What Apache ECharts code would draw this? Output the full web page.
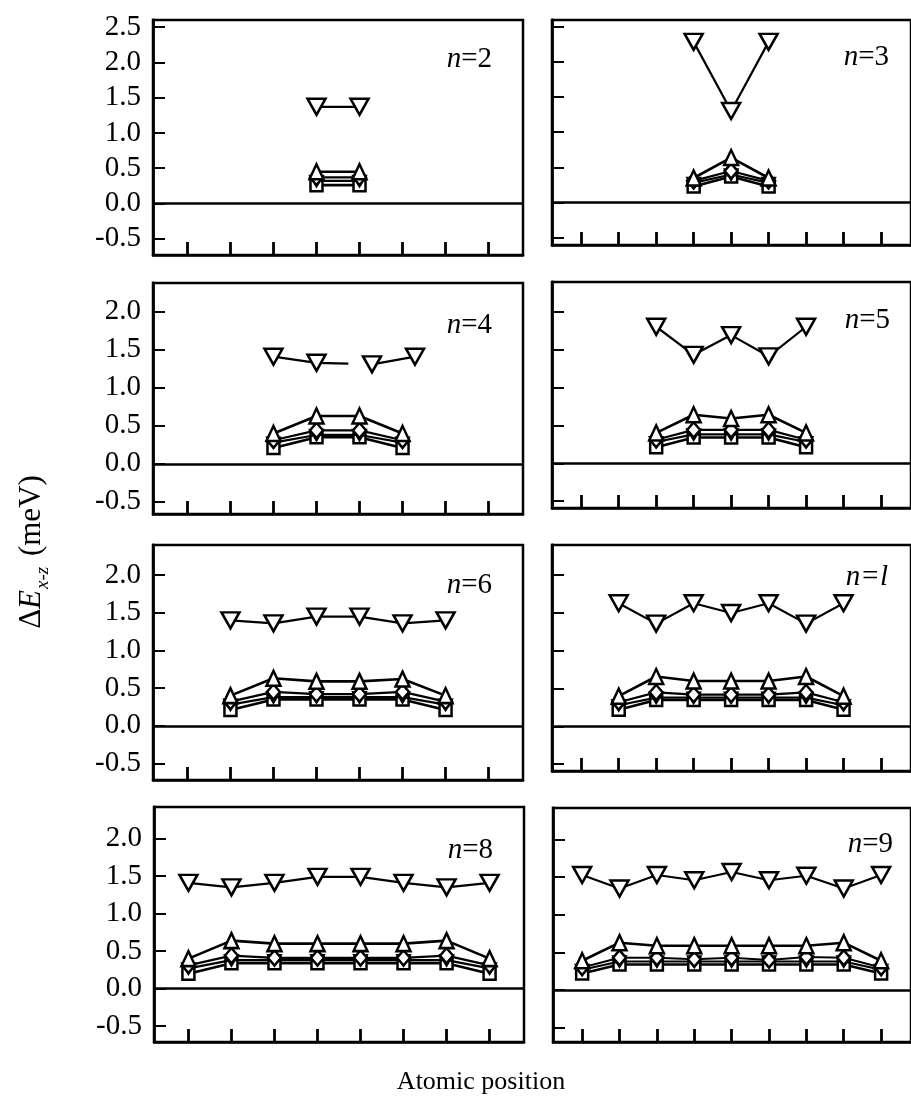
<!DOCTYPE html>
<html>
<head>
<meta charset="utf-8">
<script src="https://cdn.jsdelivr.net/npm/echarts@6/dist/echarts.min.js"></script>
<style>
  html, body { margin: 0; padding: 0; background: #fff; }
  #chart { width: 911px; height: 1107px; }
</style>
</head>
<body>
<div id="chart"></div>
<script>
// ΔE(x-z) along the chain for n = 2 … 9 atoms; five curves per panel.
// dn: large open down-triangles, up: up-triangles, dm: diamonds,
// dt: small down-triangles, sq: squares.

const panelLabels = ['2', '3', '4', '5', '6', 'l', '8', '9'];

const yTicksTop = [-0.5, 0, 0.5, 1.0, 1.5, 2.0, 2.5];
const yTicks = [-0.5, 0, 0.5, 1.0, 1.5, 2.0];
const xTicksLeft = [1, 2, 3, 4, 5, 6, 7, 8];
const xTicksRight = [1, 2, 3, 4, 5, 6, 7, 8, 9];

// n = 2
const xN2 = [4, 5];
const dnN2 = [1.37, 1.37];
const upN2 = [0.45, 0.45];
const dmN2 = [0.37, 0.37];
const dtN2 = [0.32, 0.32];
const sqN2 = [0.26, 0.26];

// n = 3
const xN3 = [4, 5, 6];
const dnN3 = [2.28, 1.30, 2.28];
const upN3 = [0.35, 0.64, 0.35];
const dmN3 = [0.31, 0.45, 0.31];
const dtN3 = [0.28, 0.40, 0.28];
const sqN3 = [0.23, 0.37, 0.23];

// n = 4 (top curve has a broken segment between the 2nd and 3rd points)
const xN4 = [3, 4, 5, 6];
const dnXN4 = [3, 4, 4.74, 5.0, 5.29, 6.29];
const dnN4 = [1.41, 1.33, 1.32, null, 1.31, 1.41];
const dnMarkN4 = [true, true, false, false, true, true];
const upN4 = [0.40, 0.63, 0.63, 0.40];
const dmN4 = [0.31, 0.44, 0.44, 0.31];
const dtN4 = [0.28, 0.38, 0.38, 0.28];
const sqN4 = [0.21, 0.35, 0.35, 0.21];

// n = 5
const xN5 = [3, 4, 5, 6, 7];
const dnN5 = [1.80, 1.43, 1.69, 1.41, 1.80];
const upN5 = [0.40, 0.64, 0.59, 0.64, 0.40];
const dmN5 = [0.31, 0.44, 0.44, 0.44, 0.31];
const dtN5 = [0.28, 0.38, 0.38, 0.38, 0.28];
const sqN5 = [0.21, 0.34, 0.34, 0.34, 0.21];

// n = 6
const xN6 = [2, 3, 4, 5, 6, 7];
const dnN6 = [1.40, 1.36, 1.45, 1.45, 1.36, 1.40];
const upN6 = [0.40, 0.63, 0.59, 0.59, 0.62, 0.40];
const dmN6 = [0.32, 0.45, 0.42, 0.42, 0.45, 0.32];
const dtN6 = [0.28, 0.38, 0.38, 0.38, 0.38, 0.28];
const sqN6 = [0.21, 0.35, 0.35, 0.35, 0.35, 0.21];

// n = 7
const xN7 = [2, 3, 4, 5, 6, 7, 8];
const dnN7 = [1.63, 1.36, 1.63, 1.50, 1.63, 1.36, 1.63];
const upN7 = [0.40, 0.66, 0.60, 0.60, 0.60, 0.66, 0.40];
const dmN7 = [0.32, 0.45, 0.42, 0.42, 0.42, 0.45, 0.32];
const dtN7 = [0.28, 0.38, 0.38, 0.38, 0.38, 0.38, 0.28];
const sqN7 = [0.22, 0.35, 0.35, 0.35, 0.35, 0.35, 0.22];

// n = 8
const xN8 = [1, 2, 3, 4, 5, 6, 7, 8];
const dnN8 = [1.41, 1.35, 1.41, 1.49, 1.49, 1.41, 1.35, 1.41];
const upN8 = [0.40, 0.64, 0.60, 0.60, 0.60, 0.60, 0.64, 0.40];
const dmN8 = [0.31, 0.44, 0.41, 0.41, 0.41, 0.41, 0.44, 0.31];
const dtN8 = [0.27, 0.38, 0.38, 0.38, 0.38, 0.38, 0.38, 0.27];
const sqN8 = [0.20, 0.34, 0.34, 0.34, 0.34, 0.34, 0.34, 0.20];

// n = 9
const xN9 = [1, 2, 3, 4, 5, 6, 7, 8, 9];
const dnN9 = [1.53, 1.35, 1.53, 1.46, 1.57, 1.46, 1.52, 1.35, 1.53];
const upN9 = [0.39, 0.63, 0.59, 0.59, 0.59, 0.59, 0.59, 0.63, 0.39];
const dmN9 = [0.30, 0.43, 0.43, 0.41, 0.43, 0.40, 0.44, 0.43, 0.30];
const dtN9 = [0.27, 0.38, 0.38, 0.38, 0.38, 0.38, 0.38, 0.38, 0.27];
const sqN9 = [0.22, 0.34, 0.34, 0.34, 0.34, 0.34, 0.34, 0.34, 0.22];

const panels = [
  { x: xN2, dnX: xN2, dn: dnN2, up: upN2, dm: dmN2, dt: dtN2, sq: sqN2 },
  { x: xN3, dnX: xN3, dn: dnN3, up: upN3, dm: dmN3, dt: dtN3, sq: sqN3 },
  { x: xN4, dnX: dnXN4, dn: dnN4, dnMark: dnMarkN4, up: upN4, dm: dmN4, dt: dtN4, sq: sqN4 },
  { x: xN5, dnX: xN5, dn: dnN5, up: upN5, dm: dmN5, dt: dtN5, sq: sqN5 },
  { x: xN6, dnX: xN6, dn: dnN6, up: upN6, dm: dmN6, dt: dtN6, sq: sqN6 },
  { x: xN7, dnX: xN7, dn: dnN7, up: upN7, dm: dmN7, dt: dtN7, sq: sqN7 },
  { x: xN8, dnX: xN8, dn: dnN8, up: upN8, dm: dmN8, dt: dtN8, sq: sqN8 },
  { x: xN9, dnX: xN9, dn: dnN9, up: upN9, dm: dmN9, dt: dtN9, sq: sqN9 }
];

// Panel frames (pixels) and value ranges
const frames = [
  { left: 153, top: 20,  width: 370, height: 235, yMin: -0.73, yMax: 2.60 },
  { left: 552, top: 20,  width: 369, height: 225, yMin: -0.60, yMax: 2.59 },
  { left: 153, top: 283, width: 370, height: 231, yMin: -0.66, yMax: 2.38 },
  { left: 552, top: 282, width: 369, height: 226, yMin: -0.59, yMax: 2.39 },
  { left: 153, top: 545, width: 370, height: 235, yMin: -0.72, yMax: 2.40 },
  { left: 552, top: 545, width: 369, height: 226, yMin: -0.59, yMax: 2.40 },
  { left: 154, top: 807, width: 370, height: 235, yMin: -0.71, yMax: 2.42 },
  { left: 553, top: 808, width: 369, height: 234, yMin: -0.69, yMax: 2.42 }
];

const labelPos = [
  { x: 492, y: 59 }, { x: 889, y: 57 },
  { x: 492, y: 325 }, { x: 890, y: 320 },
  { x: 492, y: 585 }, { x: 888, y: 577 },
  { x: 493, y: 850 }, { x: 893, y: 844 }
];

const SERIF = '"Liberation Serif", "DejaVu Serif", serif';

const grid = [], xAxis = [], yAxis = [], series = [];

panels.forEach((p, i) => {
  const f = frames[i];
  const rightCol = i % 2 === 1;
  grid.push({
    left: f.left, top: f.top, width: f.width, height: f.height,
    show: true, borderColor: '#000', borderWidth: 2.5, backgroundColor: 'transparent'
  });
  xAxis.push({
    type: 'value', gridIndex: i, position: 'bottom',
    min: rightCol ? 0.22 : 0.2, max: rightCol ? 9.8 : 8.8,
    axisLine: { show: true, onZero: false, lineStyle: { color: '#000', width: 2.5 } },
    axisTick: {
      show: true, inside: true, length: 13,
      customValues: rightCol ? xTicksRight : xTicksLeft,
      lineStyle: { color: '#000', width: 2.8 }
    },
    axisLabel: { show: false },
    splitLine: { show: false }
  });
  const yt = i === 0 || i === 1 ? yTicksTop : yTicks;
  yAxis.push({
    type: 'value', gridIndex: i, min: f.yMin, max: f.yMax,
    axisLine: { show: true, onZero: false, lineStyle: { color: '#000', width: 2.8 } },
    axisTick: {
      show: true, inside: true, length: 12, customValues: yt,
      lineStyle: { color: '#000', width: 2 }
    },
    axisLabel: {
      show: !rightCol, customValues: yt, margin: 12,
      formatter: v => v.toFixed(1),
      fontFamily: SERIF, fontSize: 29, color: '#000'
    },
    splitLine: { show: false }
  });

  const common = {
    type: 'line', xAxisIndex: i, yAxisIndex: i, animation: false,
    silent: true, connectNulls: false,
    itemStyle: { color: '#fff', borderColor: '#000', borderWidth: 2.5 }
  };
  const pts = (xs, ys) => xs.map((x, k) => [x, ys[k]]);

  // squares (with zero reference line)
  series.push(Object.assign({}, common, {
    data: pts(p.x, p.sq), symbol: 'rect', symbolSize: 12,
    lineStyle: { color: '#000', width: 2.6 }, z: 3,
    markLine: {
      silent: true, symbol: 'none', animation: false,
      label: { show: false },
      lineStyle: { color: '#000', width: 2.6, type: 'solid' },
      data: [{ yAxis: 0 }]
    }
  }));
  // small down-triangles
  series.push(Object.assign({}, common, {
    data: pts(p.x, p.dt), symbol: 'triangle', symbolRotate: 180, symbolSize: [12, 10],
    lineStyle: { color: '#000', width: 2.2 }, z: 4
  }));
  // diamonds
  series.push(Object.assign({}, common, {
    data: pts(p.x, p.dm), symbol: 'diamond', symbolSize: [13, 15],
    lineStyle: { color: '#000', width: 2.2 }, z: 5
  }));
  // up-triangles
  series.push(Object.assign({}, common, {
    data: pts(p.x, p.up), symbol: 'triangle', symbolSize: [14, 15],
    lineStyle: { color: '#000', width: 2.6 }, z: 6
  }));
  // large down-triangles
  const dnData = p.dnX.map((x, k) => {
    const item = { value: [x, p.dn[k]] };
    if (p.dnMark && !p.dnMark[k]) item.symbol = 'none';
    return item;
  });
  series.push(Object.assign({}, common, {
    data: dnData, symbol: 'triangle', symbolRotate: 180, symbolSize: [18, 16],
    lineStyle: { color: '#000', width: 2.2 }, z: 7
  }));
});

const graphic = panelLabels.map((n, i) => ({
  type: 'text', x: labelPos[i].x, y: labelPos[i].y, z: 100,
  style: {
    text: '{i|n}{r|=' + n + '}',
    align: 'right', verticalAlign: 'middle',
    rich: {
      i: { fontFamily: SERIF, fontSize: 29, fontStyle: 'italic', fill: '#000' },
      r: { fontFamily: SERIF, fontSize: 29, fontStyle: n === 'l' ? 'italic' : 'normal', fill: '#000' }
    }
  }
}));

// Axis titles
graphic.push({
  type: 'text', x: 32, y: 552, rotation: Math.PI / 2, z: 100,
  style: {
    text: '{a|Δ}{e|E}{s|x-z}{a| (meV)}',
    align: 'center', verticalAlign: 'middle',
    rich: {
      a: { fontFamily: SERIF, fontSize: 31, fill: '#000', lineHeight: 40, verticalAlign: 'middle' },
      e: { fontFamily: SERIF, fontSize: 31, fontStyle: 'italic', fill: '#000', lineHeight: 40, verticalAlign: 'middle' },
      s: { fontFamily: SERIF, fontSize: 19, fontStyle: 'italic', fill: '#000', lineHeight: 40, verticalAlign: 'bottom', padding: [0, 3, 0, 1] }
    }
  }
});
graphic.push({
  type: 'text', x: 481, y: 1082, z: 100,
  style: {
    text: 'Atomic position', align: 'center', verticalAlign: 'middle',
    fontFamily: SERIF, fontSize: 26, fill: '#000'
  }
});

const chart = echarts.init(document.getElementById('chart'), null, { renderer: 'canvas' });
chart.setOption({
  animation: false,
  backgroundColor: '#fff',
  grid, xAxis, yAxis, series, graphic
});
</script>
</body>
</html>
